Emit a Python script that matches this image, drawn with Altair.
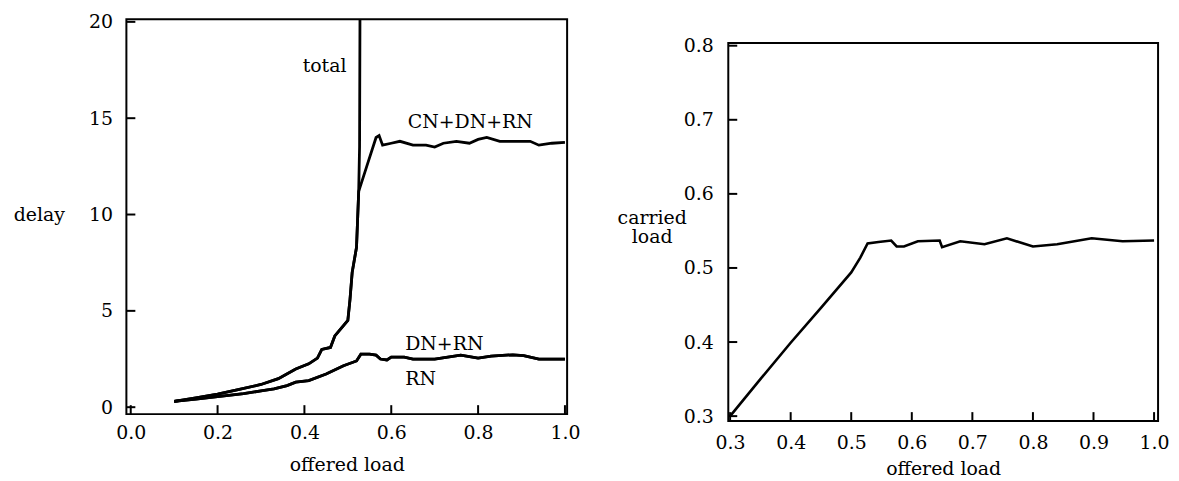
import altair as alt
import pandas as pd

# ---------------- data ----------------
# left panel: delay vs offered load
total_x = [0.10, 0.15, 0.20, 0.25, 0.30, 0.34, 0.38, 0.41, 0.43, 0.44, 0.46, 0.47, 0.50,
           0.505, 0.51, 0.52, 0.525, 0.527, 0.528]
total_y = [0.30, 0.48, 0.68, 0.92, 1.18, 1.48, 1.98, 2.25, 2.55, 3.0, 3.1, 3.7, 4.5,
           5.6, 7.0, 8.3, 11.2, 13.5, 20.6]

cdr_x = [0.10, 0.15, 0.20, 0.25, 0.30, 0.34, 0.38, 0.41, 0.43, 0.44, 0.46, 0.47, 0.50,
         0.505, 0.51, 0.52, 0.525, 0.545, 0.565, 0.572, 0.58, 0.60, 0.62, 0.65, 0.68,
         0.70, 0.72, 0.75, 0.78, 0.80, 0.82, 0.85, 0.88, 0.90, 0.92, 0.94, 0.97, 1.0]
cdr_y = [0.30, 0.48, 0.68, 0.92, 1.18, 1.48, 1.98, 2.25, 2.55, 3.0, 3.1, 3.7, 4.5,
         5.6, 7.0, 8.3, 11.2, 12.6, 14.0, 14.1, 13.6, 13.7, 13.8, 13.6, 13.6,
         13.5, 13.7, 13.8, 13.7, 13.9, 14.0, 13.8, 13.8, 13.8, 13.8, 13.6, 13.7, 13.75]

dnrn_x = [0.10, 0.15, 0.20, 0.26, 0.30, 0.33, 0.36, 0.38, 0.41, 0.45, 0.49, 0.52, 0.53,
          0.55, 0.565, 0.575, 0.59, 0.60, 0.63, 0.65, 0.70, 0.76, 0.80, 0.83, 0.88,
          0.905, 0.94, 1.0]
dnrn_y = [0.30, 0.42, 0.55, 0.70, 0.85, 0.95, 1.12, 1.30, 1.38, 1.72, 2.15, 2.40, 2.75,
          2.75, 2.70, 2.50, 2.45, 2.60, 2.60, 2.50, 2.50, 2.70, 2.55, 2.65, 2.72,
          2.68, 2.50, 2.50]

rn_x = dnrn_x
rn_y = dnrn_y

left_labels = ["total", "CN+DN+RN", "DN+RN", "RN"]
left_label_x = [0.497, 0.638, 0.632, 0.632]
left_label_y = [17.7, 14.8, 3.3, 1.46]
left_label_align = ["right", "left", "left", "left"]

left_xticks = [0.0, 0.2, 0.4, 0.6, 0.8, 1.0]
left_yticks = [0, 5, 10, 15, 20]

# right panel: carried load vs offered load
carried_x = [0.30, 0.35, 0.40, 0.45, 0.50, 0.515, 0.527, 0.545, 0.566, 0.575, 0.587, 0.61,
             0.646, 0.65, 0.68, 0.72, 0.757, 0.80, 0.84, 0.897, 0.948, 1.0]
carried_y = [0.30, 0.35, 0.399, 0.446, 0.494, 0.514, 0.533, 0.535, 0.537, 0.529, 0.529, 0.536,
             0.537, 0.528, 0.536, 0.532, 0.540, 0.529, 0.532, 0.540, 0.536, 0.537]

right_xticks = [0.3, 0.4, 0.5, 0.6, 0.7, 0.8, 0.9, 1.0]
right_yticks = [0.3, 0.4, 0.5, 0.6, 0.7, 0.8]

# ---------------- styling ----------------
FONT = "DejaVu Serif"
LW, LH = 443, 397
RW, RH = 432, 380
TICK = 9
RIGHT_DROP = 16


def series_df(name, xs, ys):
    return pd.DataFrame({"series": name, "x": xs, "y": ys, "i": range(len(xs))})


left_df = pd.concat([
    series_df("total", total_x, total_y),
    series_df("CN+DN+RN", cdr_x, cdr_y),
    series_df("DN+RN", dnrn_x, dnrn_y),
    series_df("RN", rn_x, rn_y),
])

lx_scale = alt.Scale(domain=[-0.01, 1.005], nice=False, zero=False)
ly_scale = alt.Scale(domain=[-0.36, 20.14], nice=False, zero=False)
lx_axis = alt.Axis(values=left_xticks, format=".1f", title="offered load",
                   labelPadding=10, titlePadding=13)
ly_axis = alt.Axis(values=left_yticks, format="d", title="delay",
                   labelPadding=14, titleAngle=0, titleX=-88, titleY=196,
                   titleAlign="center", titleBaseline="middle")

left_lines = alt.Chart(left_df).mark_line(color="black", strokeWidth=2.8, clip=True).encode(
    x=alt.X("x:Q", scale=lx_scale, axis=lx_axis),
    y=alt.Y("y:Q", scale=ly_scale, axis=ly_axis),
    detail="series:N",
    order="i:Q",
)

lab_df = pd.DataFrame({"t": left_labels, "x": left_label_x, "y": left_label_y,
                       "a": left_label_align})
left_text_r = alt.Chart(lab_df[lab_df.a == "right"]).mark_text(
    align="right", baseline="middle", font=FONT, fontSize=19, color="black"
).encode(x=alt.X("x:Q", scale=lx_scale, axis=lx_axis),
         y=alt.Y("y:Q", scale=ly_scale, axis=ly_axis), text="t:N")
left_text_l = alt.Chart(lab_df[lab_df.a == "left"]).mark_text(
    align="left", baseline="middle", font=FONT, fontSize=19, color="black"
).encode(x=alt.X("x:Q", scale=lx_scale, axis=lx_axis),
         y=alt.Y("y:Q", scale=ly_scale, axis=ly_axis), text="t:N")

left_yt = alt.Chart(pd.DataFrame({"y": left_yticks})).mark_rule(color="black", strokeWidth=2).encode(
    y=alt.Y("y:Q", scale=ly_scale, axis=ly_axis), x=alt.value(0), x2=alt.value(TICK))
left_xt = alt.Chart(pd.DataFrame({"x": left_xticks})).mark_rule(color="black", strokeWidth=2).encode(
    x=alt.X("x:Q", scale=lx_scale, axis=lx_axis), y=alt.value(LH), y2=alt.value(LH - TICK))

left = alt.layer(left_lines, left_text_r, left_text_l, left_yt, left_xt).properties(
    width=LW, height=LH)

# right panel
right_df = series_df("carried", carried_x, carried_y)
rx_scale = alt.Scale(domain=[0.297, 1.0066], nice=False, zero=False)
ry_scale = alt.Scale(domain=[0.2933, 0.8036], nice=False, zero=False)
rx_axis = alt.Axis(values=right_xticks, format=".1f", title="offered load",
                   labelPadding=13, titlePadding=7)
ry_axis = alt.Axis(values=right_yticks, format=".1f", title=["carried", "load"],
                   labelPadding=15, titleAngle=0, titleX=-77, titleY=175,
                   titleAlign="center", titleBaseline="middle", titleLineHeight=20)

right_line = alt.Chart(right_df).mark_line(color="black", strokeWidth=2.6, clip=True).encode(
    x=alt.X("x:Q", scale=rx_scale, axis=rx_axis),
    y=alt.Y("y:Q", scale=ry_scale, axis=ry_axis),
    order="i:Q",
)
right_yt = alt.Chart(pd.DataFrame({"y": right_yticks})).mark_rule(color="black", strokeWidth=2).encode(
    y=alt.Y("y:Q", scale=ry_scale, axis=ry_axis), x=alt.value(0), x2=alt.value(TICK))
right_xt = alt.Chart(pd.DataFrame({"x": right_xticks})).mark_rule(color="black", strokeWidth=2).encode(
    x=alt.X("x:Q", scale=rx_scale, axis=rx_axis), y=alt.value(RH), y2=alt.value(RH - TICK))

right = alt.layer(right_line, right_yt, right_xt).properties(width=RW, height=RH)

spacer = alt.Chart(pd.DataFrame({"t": [""]})).mark_text().encode(
    x=alt.value(0), y=alt.value(0), text="t:N"
).properties(width=RW, height=RIGHT_DROP, view=alt.ViewConfig(strokeOpacity=0))

right_col = alt.vconcat(spacer, right, spacing=0)

chart = alt.hconcat(left, right_col, spacing=35).properties(
    padding={"left": 4, "top": 2, "right": 0, "bottom": 0},
    background="white",
).configure_view(
    stroke="black", strokeWidth=2
).configure_axis(
    domain=False, ticks=False, grid=False,
    labelFont=FONT, labelFontSize=19, labelColor="black",
    titleFont=FONT, titleFontSize=19, titleColor="black", titleFontWeight="normal",
).configure_title(font=FONT)

chart.save("out.html", embed_options={"renderer": "svg", "actions": False})
